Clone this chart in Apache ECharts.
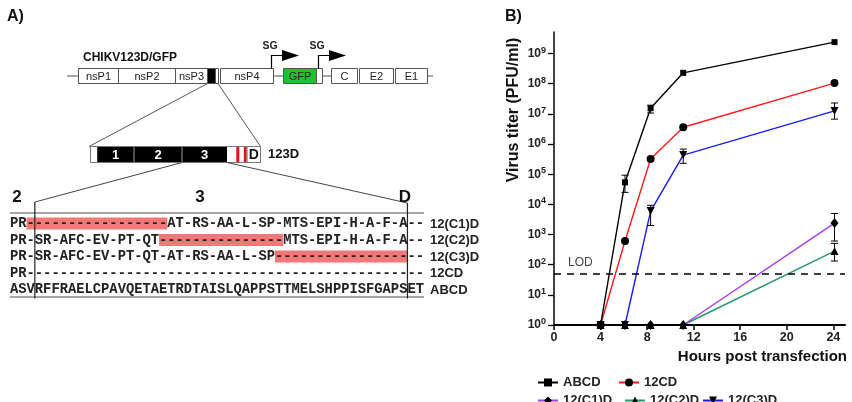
<!DOCTYPE html>
<html><head><meta charset="utf-8">
<script src="https://cdn.jsdelivr.net/npm/echarts@6/dist/echarts.min.js"></script>
<style>html,body{margin:0;padding:0;background:#fff}#c{width:852px;height:402px}</style>
</head><body><div id="c"></div>
<script>
// ---------- Panel B data ----------
const hours = [4, 6.1, 8.3, 11.1, 24.1];
const xTicks = [0, 4, 8, 12, 16, 20, 24];
const yTicks = [1, 10, 100, 1e3, 1e4, 1e5, 1e6, 1e7, 1e8, 1e9];
const seriesNames = ['ABCD', '12CD', '12(C1)D', '12(C2)D', '12(C3)D'];
const titerABCD = [1, 5.4e4, 1.55e7, 2.3e8, 2.4e9];
const titer12CD = [1, 610, 3.2e5, 3.6e6, 1.05e8];
const titerC1 = [1, 1, 1, 1, 2.4e3];
const titerC2 = [1, 1, 1, 1, 282];
const titerC3 = [1, 1, 6.0e3, 4.3e5, 1.26e7];
// error bars: [hour, low, high]
const errABCD = [[6.1, 2.5e4, 9.3e4], [8.3, 1.07e7, 1.95e7]];
const errC3 = [[8.3, 2.0e3, 9.3e3], [11.1, 2.3e5, 6.8e5], [24.1, 6.7e6, 2.3e7]];
const errC1 = [[24.1, 610, 5.0e3]];
const errC2 = [[24.1, 132, 510]];
const LOD = 50;

// ---------- Panel A data ----------
const genomeLabels = ['nsP1', 'nsP2', 'nsP3', 'nsP4', 'GFP', 'C', 'E2', 'E1'];
const domainLabels = ['1', '2', '3', 'D'];
const sectionLabels = ['2', '3', 'D'];
const seqRows = [
  'PR' + '-----------------' + 'AT-RS-AA-L-SP-MTS-EPI-H-A-F-A' + '--',
  'PR-SR-AFC-EV-PT-QT' + '---------------' + 'MTS-EPI-H-A-F-A' + '--',
  'PR-SR-AFC-EV-PT-QT-AT-RS-AA-L-SP' + '----------------' + '--',
  'PR' + '------------------------------------------------',
  'ASVRFFRAELCPAVQETAETRDTAISLQAPPSTTMELSHPPISFGAPSET'
];
const seqNames = ['12(C1)D', '12(C2)D', '12(C3)D', '12CD', 'ABCD'];
const deletedCols = [[2, 18], [18, 32], [32, 47], null, null];

// ---------- drawing helpers ----------
const sans = '"Liberation Sans", Arial, Helvetica, sans-serif';
const mono = '"Liberation Mono", "Courier New", monospace';
const G = [];
function rect(x0, y0, x1, y1, fill, stroke, lw) {
  G.push({type: 'rect', silent: true, shape: {x: x0, y: y0, width: x1 - x0, height: y1 - y0},
    style: {fill: fill || null, stroke: stroke || null, lineWidth: lw || 1}});
}
function line(x1, y1, x2, y2, stroke, lw) {
  G.push({type: 'line', silent: true, shape: {x1, y1, x2, y2}, style: {stroke: stroke, lineWidth: lw || 1}});
}
function text(x, y, t, size, weight, fill, align, family, rot) {
  G.push({type: 'text', silent: true, x: x, y: y, rotation: rot || 0,
    style: {text: t, fontSize: size, fontWeight: weight, fontFamily: family || sans, fill: fill,
      align: align || 'center', verticalAlign: 'middle'}});
}

// Panel labels
text(7, 17, 'A)', 16, 'bold', '#111', 'left');
text(505, 17, 'B)', 16, 'bold', '#111', 'left');

// Genome
const gy0 = 68.5, gy1 = 83.5, gc = 76;
const bc = '#555';
line(67, gc, 78.5, gc, bc);
line(273.5, gc, 283.5, gc, bc);
line(322.5, gc, 331.5, gc, bc);
line(427.5, gc, 433, gc, bc);
rect(78.5, gy0, 118.5, gy1, '#fff', bc);
rect(118.5, gy0, 175.5, gy1, '#fff', bc);
rect(175.5, gy0, 207.5, gy1, '#fff', bc);
rect(207.5, gy0, 215.5, gy1, '#000', bc);
rect(215.5, gy0, 218.5, gy1, '#fff', bc);
rect(220.5, gy0, 273.5, gy1, '#fff', bc);
rect(283.5, gy0, 316.5, gy1, '#1bc42c', bc);
rect(316.5, gy0, 322.5, gy1, '#fff', bc);
rect(331.5, gy0, 357.5, gy1, '#fff', bc);
rect(359.5, gy0, 393.5, gy1, '#fff', bc);
rect(395.5, gy0, 427.5, gy1, '#fff', bc);
const gx = [98.5, 147, 191.5, 247, 300, 344.5, 376.5, 411.5];
genomeLabels.forEach((l, i) => text(gx[i], gc + 0.5, l, 11, 'normal', '#222'));
text(83, 58, 'CHIKV123D/GFP', 12, 'bold', '#111', 'left');
// SG promoters
[[271.5, 282, 299], [318.5, 329, 346]].forEach(a => {
  G.push({type: 'polyline', silent: true, shape: {points: [[a[0], gy0], [a[0], 55.5], [a[1] + 1, 55.5]]},
    style: {stroke: '#000', lineWidth: 1.2, fill: null}});
  G.push({type: 'polygon', silent: true, shape: {points: [[a[1], 50], [a[2], 55.5], [a[1], 61]]},
    style: {fill: '#000'}});
  text(a[0] - 1.5, 46.5, 'SG', 10.5, 'bold', '#222');
});
// zoom lines
line(207.5, 83.5, 89, 146.5, '#555');
line(218, 83.5, 260.5, 146.5, '#555');

// 123D box
const by0 = 146.5, by1 = 162.5, bcy = 154.5;
rect(90.5, by0, 97.5, by1, '#fff', '#666');
rect(97.5, by0, 227, by1, '#000');
line(134, by0, 134, by1, '#999');
line(182, by0, 182, by1, '#999');
rect(227, by0, 247, by1, '#fff');
rect(236.3, by0, 239.3, by1, '#e3141c');
rect(243.8, by0, 246.6, by1, '#e3141c');
rect(247, by0, 260.5, by1, '#fff', '#666');
rect(90.5, by0, 260.5, by1, null, '#777');
const dx = [115.5, 158, 204.5, 253.8];
domainLabels.forEach((l, i) => text(dx[i], bcy + 0.5, l, i < 3 ? 13 : 14, 'bold', i < 3 ? '#fff' : '#111'));
text(268, bcy, '123D', 13, 'bold', '#111', 'left');
// zoom lines 2
line(182, by1, 35, 202, '#444');
line(227, by1, 407.4, 203, '#444');
const sx = [17, 200, 405];
sectionLabels.forEach((l, i) => text(sx[i], 197, l, 17, 'bold', '#111'));

// Alignment table
const cw = 8.28, tx0 = 10;
const rowY = [223.5, 240, 256.5, 273, 289.5];
line(tx0, 213, 424, 213, '#888', 1.5);
line(tx0, 297, 424, 297, '#888', 1.5);
deletedCols.forEach((r, i) => {
  if (r) rect(tx0 + r[0] * cw, rowY[i] - 6, tx0 + (r[1] + 1) * cw, rowY[i] + 6, '#f47878');
});
seqRows.forEach((s, i) => text(tx0, rowY[i] + 0.5, s, 13.8, 'bold', '#222', 'left', mono));
line(tx0 + 3 * cw, 202, tx0 + 3 * cw, 298.5, '#222', 1.2);
line(tx0 + 48 * cw, 203, tx0 + 48 * cw, 298.5, '#222', 1.2);
seqNames.forEach((s, i) => text(430, rowY[i] + 0.5, s, 13, 'bold', '#222', 'left'));

// Y axis title for panel B
text(514, 110, 'Virus titer (PFU/ml)', 16, 'bold', '#111', 'center', sans, Math.PI / 2);

// ---------- chart ----------
function pairs(vals) { return hours.map((h, i) => [h, vals[i]]); }
const lineColors = ['#000000', '#ff1a1a', '#a63cf2', '#23996b', '#1a1aff'];
const symbols = ['rect', 'circle', 'diamond', 'triangle', 'path://M0,0L10,0L5,10Z'];
const symSizes = [6, 8, [8, 10], 8, 8];
const vals = [titerABCD, titer12CD, titerC1, titerC2, titerC3];
const series = seriesNames.map((n, i) => ({
  name: n, type: 'line', data: pairs(vals[i]), symbol: symbols[i], symbolSize: symSizes[i],
  itemStyle: {color: '#000'}, lineStyle: {color: lineColors[i], width: 1.4}, z: 3 + (4 - i) * 0.01,
  emphasis: {disabled: true}, animation: false
}));
series[0].markLine = {
  silent: true, symbol: 'none', animation: false,
  data: [{yAxis: LOD}],
  lineStyle: {color: '#000', type: [7, 6], width: 1.5},
  label: {show: true, formatter: 'LOD', position: 'insideStartTop', color: '#444', fontSize: 12,
    fontFamily: sans, distance: [14, 5]}
};
const errAll = errABCD.concat(errC3, errC1, errC2);
series.push({
  type: 'custom', silent: true, z: 4, data: errAll, encode: {x: 0, y: [1, 2]},
  renderItem: function (params, api) {
    const x = api.value(0);
    const lo = api.coord([x, api.value(1)]);
    const hi = api.coord([x, api.value(2)]);
    const w = 3.5, st = {stroke: '#000', lineWidth: 1};
    return {type: 'group', children: [
      {type: 'line', shape: {x1: lo[0], y1: lo[1], x2: hi[0], y2: hi[1]}, style: st},
      {type: 'line', shape: {x1: lo[0] - w, y1: lo[1], x2: lo[0] + w, y2: lo[1]}, style: st},
      {type: 'line', shape: {x1: hi[0] - w, y1: hi[1], x2: hi[0] + w, y2: hi[1]}, style: st}
    ]};
  }
});

const legendLeft = [537, 618, 537, 624, 702];
const legendTop = [376, 376, 394, 394, 394];
const legends = seriesNames.map((n, i) => ({
  data: [n], left: legendLeft[i], top: legendTop[i], itemWidth: 20, itemHeight: 10, padding: 0,
  selectedMode: false, textStyle: {fontWeight: 'bold', fontSize: 13, color: '#222', fontFamily: sans}
}));

const chart = echarts.init(document.getElementById('c'), null, {renderer: 'canvas'});
chart.setOption({
  animation: false,
  textStyle: {fontFamily: sans},
  grid: {left: 554, right: 7, top: 32, bottom: 77, containLabel: false, outerBoundsMode: 'none'},
  xAxis: {
    type: 'value', min: 0, max: 25, z: 6,
    axisLine: {onZero: false, lineStyle: {color: '#000', width: 2}},
    axisTick: {customValues: xTicks, length: 5, lineStyle: {color: '#000', width: 1.5}},
    axisLabel: {customValues: xTicks, fontWeight: 'bold', fontSize: 12.5, color: '#222', margin: 6, fontFamily: sans},
    splitLine: {show: false},
    name: 'Hours post transfection', nameLocation: 'end', nameGap: 2,
    nameTextStyle: {align: 'right', verticalAlign: 'top', fontWeight: 'bold', fontSize: 15, color: '#111',
      fontFamily: sans, padding: [24, 0, 0, 0]}
  },
  yAxis: {
    type: 'log', logBase: 10, min: 1, max: 5.2e9, z: 6,
    axisLine: {show: true, lineStyle: {color: '#000', width: 1.5}},
    axisTick: {show: true, customValues: yTicks, length: 6, lineStyle: {color: '#000', width: 1.3}},
    axisLabel: {
      customValues: yTicks, margin: 8,
      formatter: v => '{b|10}{s|' + Math.round(Math.log10(v)) + '}',
      rich: {
        b: {fontSize: 12, fontWeight: 'bold', color: '#222', lineHeight: 16, fontFamily: sans},
        s: {fontSize: 9, fontWeight: 'bold', color: '#222', verticalAlign: 'top', fontFamily: sans}
      }
    },
    splitLine: {show: false}, minorTick: {show: false}
  },
  legend: legends,
  series: series,
  graphic: {elements: G}
});
</script>
</body></html>
